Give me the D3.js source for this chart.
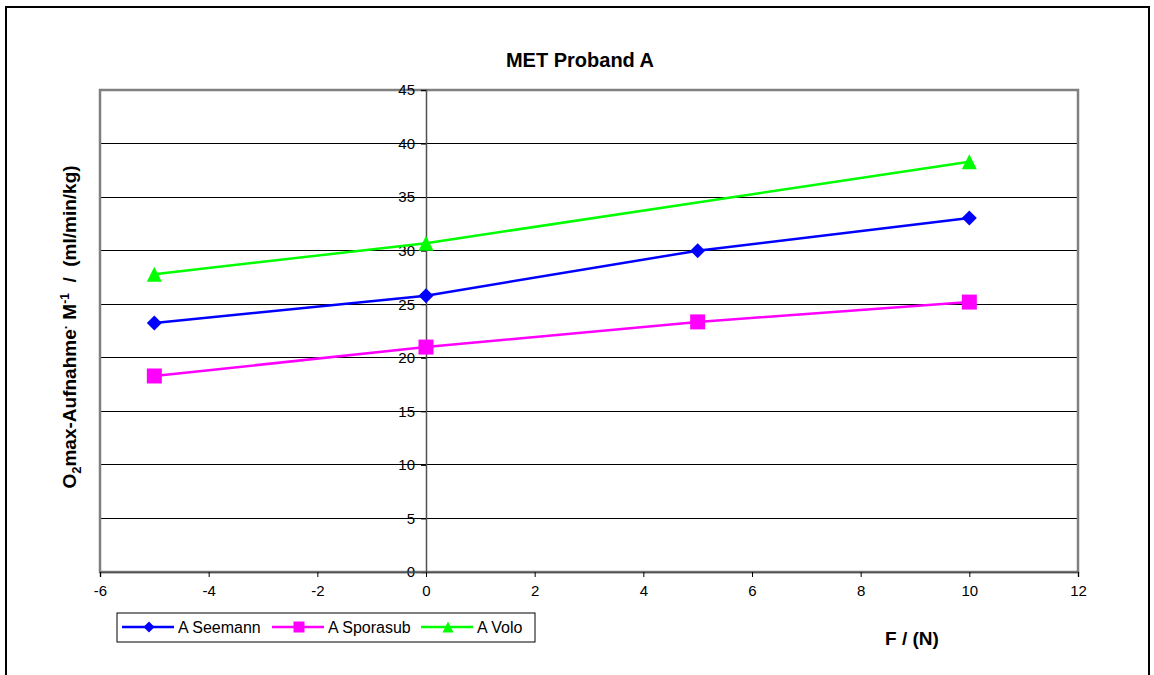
<!DOCTYPE html>
<html><head><meta charset="utf-8">
<script src="https://cdn.jsdelivr.net/npm/d3@7"></script>
<style>body{margin:0;background:#fff;} text{font-family:"Liberation Sans",Arial,sans-serif;white-space:pre;}</style>
</head><body>
<svg id="c" width="1154" height="675"></svg>
<script>
const xTicks = [-6,-4,-2,0,2,4,6,8,10,12];
const yTicks = [0,5,10,15,20,25,30,35,40,45];
const seemannX = [-5,0,5,10];
const seemannY = [23.25,25.8,30.0,33.05];
const sporasubX = [-5,0,5,10];
const sporasubY = [18.3,21.0,23.35,25.2];
const voloX = [-5,0,10];
const voloY = [27.8,30.7,38.3];
const seriesNames = ["A Seemann","A Sporasub","A Volo"];
const seriesColors = ["#0000FF","#FF00FF","#00FF00"];

function marker(kind, s){ // s = half extent
  if(kind===0) return `M0,${-s}L${s},0L0,${s}L${-s},0Z`;
  if(kind===1) return `M${-s},${-s}H${s}V${s}H${-s}Z`;
  return `M0,${-s}L${s},${s}H${-s}Z`;
}

const svg = d3.select("#c");
const L=100, R=1078, T=90, B=572;
const x = d3.scaleLinear().domain([-6,12]).range([L,R]);
const y = d3.scaleLinear().domain([0,45]).range([B,T]);

svg.append("rect").attr("x",6).attr("y",7).attr("width",1143).attr("height",700)
  .attr("fill","none").attr("stroke","#000").attr("stroke-width",2);

svg.append("text").attr("x",580).attr("y",67).attr("text-anchor","middle")
  .style("font-size","20px").attr("font-weight","bold").text("MET Proband A");

svg.append("g").selectAll("line").data(yTicks.filter(d=>d>0 && d<45)).join("line")
  .attr("x1",L).attr("x2",R).attr("y1",d=>y(d)).attr("y2",d=>y(d))
  .attr("stroke","#000").attr("stroke-width",1).attr("shape-rendering","crispEdges");

svg.append("rect").attr("x",L).attr("y",T).attr("width",R-L).attr("height",B-T)
  .attr("fill","none").attr("stroke","#808080").attr("stroke-width",2.5);

const fmt = d=>String(d);
const yAxis = d3.axisLeft(y).tickValues(yTicks).tickFormat(fmt).tickSize(5).tickPadding(6);
const gy = svg.append("g").attr("transform",`translate(${x(0)},0)`).call(yAxis);
gy.select(".domain").attr("stroke","#505050").attr("stroke-width",1.5);
gy.selectAll(".tick line").attr("stroke","#000");
gy.selectAll(".tick text").style("font-size","15px").style("font-family","Liberation Sans, Arial, sans-serif").attr("fill","#000");

const xAxis = d3.axisBottom(x).tickValues(xTicks).tickFormat(fmt).tickSize(5).tickPadding(8);
const gx = svg.append("g").attr("transform",`translate(0,${y(0)})`).call(xAxis);
gx.select(".domain").attr("stroke","#505050").attr("stroke-width",1.5);
gx.selectAll(".tick line").attr("stroke","#000");
gx.selectAll(".tick text").style("font-size","15px").style("font-family","Liberation Sans, Arial, sans-serif").attr("fill","#000");

const series = [
  {xs:seemannX, ys:seemannY},
  {xs:sporasubX, ys:sporasubY},
  {xs:voloX, ys:voloY}
];
const line = d3.line().x(d=>x(d[0])).y(d=>y(d[1]));
const mSize = [7.5,7.5,7.5];
series.forEach((s,i)=>{
  const pts = s.xs.map((v,j)=>[v,s.ys[j]]);
  svg.append("path").datum(pts).attr("d",line).attr("fill","none")
    .attr("stroke",seriesColors[i]).attr("stroke-width",2.5);
  svg.append("g").selectAll("path").data(pts).join("path")
    .attr("transform",d=>`translate(${x(d[0])},${y(d[1])})`)
    .attr("d",marker(i,mSize[i]))
    .attr("fill",seriesColors[i]);
});

const yl = svg.append("text").attr("transform","translate(76,327) rotate(-90)")
  .attr("text-anchor","middle").style("font-size","19px").attr("font-weight","bold");
yl.append("tspan").text("O");
yl.append("tspan").style("font-size","13px").attr("dy",5).text("2");
yl.append("tspan").attr("dy",-5).text("max-Aufnahme");
yl.append("tspan").style("font-size","13px").attr("dy",-6).text("·");
yl.append("tspan").attr("dy",6).text(" M");
yl.append("tspan").style("font-size","12px").attr("dy",-7).text("-1");
yl.append("tspan").attr("dy",7).text("  /  (ml/min/kg)");

svg.append("text").attr("x",912).attr("y",645).attr("text-anchor","middle")
  .style("font-size","19px").attr("font-weight","bold").text("F / (N)");

svg.append("rect").attr("x",117).attr("y",613).attr("width",418).attr("height",29)
  .attr("fill","#fff").attr("stroke","#000").attr("stroke-width",1);
const legX = [122,272,421];
seriesNames.forEach((n,i)=>{
  const g = svg.append("g").attr("transform",`translate(${legX[i]},627)`);
  g.append("line").attr("x1",0).attr("x2",52).attr("stroke",seriesColors[i]).attr("stroke-width",2.5);
  g.append("path").attr("transform","translate(27,0)")
    .attr("d",marker(i,5.5)).attr("fill",seriesColors[i]);
  g.append("text").attr("x",56).attr("y",6).style("font-size","16px").text(n);
});
</script>
</body></html>
